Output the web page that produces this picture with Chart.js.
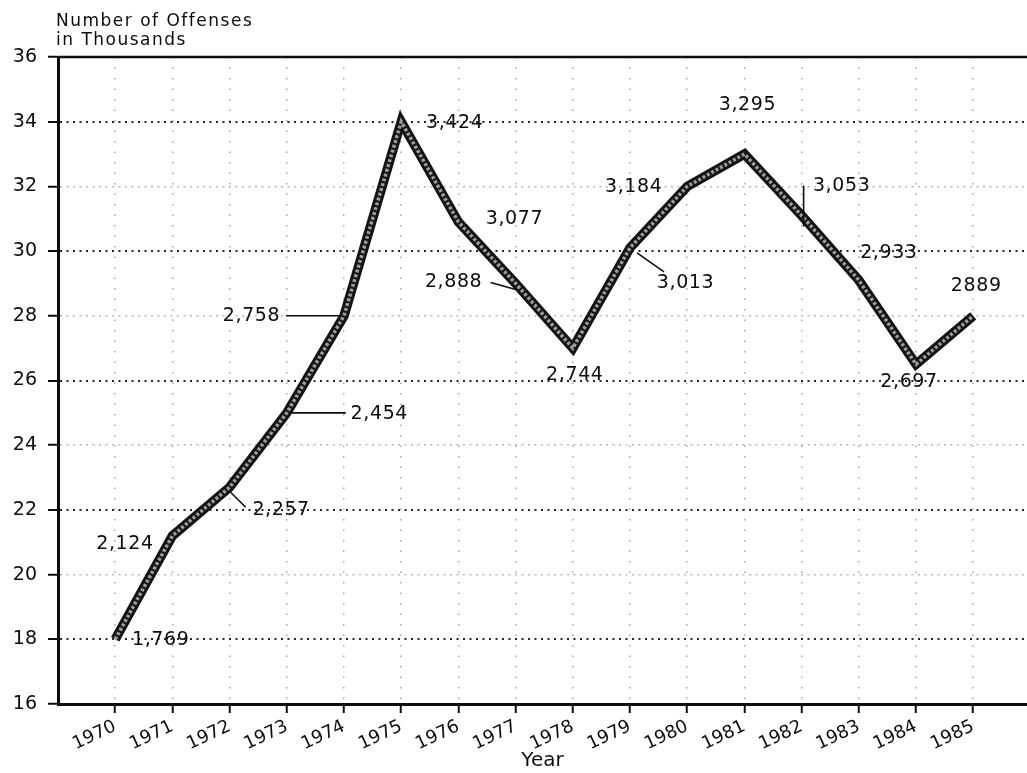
<!DOCTYPE html>
<html>
<head>
<meta charset="utf-8">
<script src="https://cdn.jsdelivr.net/npm/chart.js@4/dist/chart.umd.min.js"></script>
<style>
  html, body { margin: 0; padding: 0; background: #ffffff; }
  canvas { display: block; }
</style>
</head>
<body>
<canvas id="c" width="1027" height="773"></canvas>
<script>
// ---- data ----
const years = [1970, 1971, 1972, 1973, 1974, 1975, 1976, 1977, 1978, 1979, 1980, 1981, 1982, 1983, 1984, 1985];
const offenses = [18.0, 21.2, 22.7, 25.0, 28.0, 34.0, 30.9, 29.0, 27.0, 30.1, 32.0, 33.0, 31.1, 29.1, 26.5, 28.0];
const pointLabels = ['1,769', '2,124', '2,257', '2,454', '2,758', '3,424', '3,077', '2,888', '2,744', '3,013', '3,184', '3,295', '3,053', '2,933', '2,697', '2889'];
const yTicks = [16, 18, 20, 22, 24, 26, 28, 30, 32, 34, 36];
const yTitleLines = ['Number of Offenses', 'in Thousands'];
const xTitle = 'Year';

// ---- layout of the value labels (pixel offsets from each point) ----
const labelOffsets = [
  [45.5, 1], [-47.5, 8], [51.5, 23], [92.5, 1], [-92.5, 0], [53.5, 1], [56, -3], [-62, -1],
  [2, 27], [55.5, 35], [-53.5, 1], [3, -49], [40, -29], [30, -27], [-7, 18], [3, -30]
];
const leaderLines = {
  2: [1, 5, 16, 20],
  3: [5, 0, 59, 0],
  4: [-58, 0, -2, 0],
  7: [-25, -1, 0, 6],
  9: [7, 5, 34, 24],
  12: [2, -30, 2, 11]
};

const FONT = '"DejaVu Sans", "Liberation Sans", sans-serif';
const INK = '#0d0d0d';

const points = years.map((yr, i) => ({ x: yr, y: offenses[i] }));

const annotatePlugin = {
  id: 'annotate',
  beforeDatasetsDraw(chart) {
    const { ctx, chartArea } = chart;
    ctx.save();
    ctx.strokeStyle = INK;
    ctx.lineWidth = 2.5;
    ctx.beginPath();
    ctx.moveTo(chartArea.left, chartArea.top);
    ctx.lineTo(chartArea.right, chartArea.top);
    ctx.stroke();
    ctx.restore();
  },
  afterDatasetsDraw(chart) {
    const { ctx } = chart;
    const meta = chart.getDatasetMeta(0);
    ctx.save();
    ctx.fillStyle = INK;
    ctx.strokeStyle = INK;
    ctx.font = '19px ' + FONT;
    ctx.textAlign = 'center';
    ctx.textBaseline = 'middle';
    try { ctx.letterSpacing = '0.6px'; } catch (e) {}
    meta.data.forEach((pt, i) => {
      const [dx, dy] = labelOffsets[i];
      ctx.fillText(pointLabels[i], pt.x + dx, pt.y + dy);
      const l = leaderLines[i];
      if (l) {
        ctx.lineWidth = 1.6;
        ctx.beginPath();
        ctx.moveTo(pt.x + l[0], pt.y + l[1]);
        ctx.lineTo(pt.x + l[2], pt.y + l[3]);
        ctx.stroke();
      }
    });
    ctx.restore();
  },
  afterDraw(chart) {
    const { ctx } = chart;
    ctx.save();
    ctx.fillStyle = INK;
    ctx.font = '17px ' + FONT;
    ctx.textAlign = 'left';
    ctx.textBaseline = 'alphabetic';
    try { ctx.letterSpacing = '1.5px'; } catch (e) {}
    ctx.fillText(yTitleLines[0], 56, 26);
    ctx.fillText(yTitleLines[1], 56, 45);
    ctx.restore();
  }
};

new Chart(document.getElementById('c'), {
  type: 'line',
  data: {
    datasets: [
      {
        data: points,
        borderColor: '#9c9c9c',
        borderWidth: 3.5,
        borderDash: [3, 2],
        pointRadius: 0,
        tension: 0,
        borderJoinStyle: 'miter',
        borderCapStyle: 'butt',
        order: 0
      },
      {
        data: points,
        borderColor: '#141414',
        borderWidth: 9.5,
        pointRadius: 0,
        tension: 0,
        borderJoinStyle: 'miter',
        borderCapStyle: 'butt',
        order: 1
      }
    ]
  },
  options: {
    responsive: false,
    animation: false,
    events: [],
    layout: { padding: { top: 57, left: 0, right: 0, bottom: 0 } },
    plugins: { legend: { display: false }, tooltip: { enabled: false } },
    scales: {
      x: {
        type: 'linear',
        min: 1969,
        max: 1985.94,
        afterBuildTicks: s => { s.ticks = years.map(v => ({ value: v })); },
        afterFit: s => { s.height = 69; },
        ticks: {
          autoSkip: false,
          minRotation: 25,
          maxRotation: 25,
          padding: 3,
          color: INK,
          font: { family: FONT, size: 18 },
          callback: v => String(v)
        },
        grid: {
          color: 'rgba(0,0,0,0.35)',
          lineWidth: 1.5,
          tickLength: 9,
          tickColor: INK,
          tickWidth: 2
        },
        border: { color: INK, width: 3, dash: [1.5, 9] },
        title: {
          display: true,
          text: xTitle,
          color: INK,
          font: { family: FONT, size: 20 },
          padding: { top: 0, bottom: 0 }
        }
      },
      y: {
        type: 'linear',
        min: 16,
        max: 36,
        afterBuildTicks: s => { s.ticks = yTicks.map(v => ({ value: v })); },
        afterFit: s => { s.width = 58; },
        ticks: {
          padding: 11,
          color: INK,
          font: { family: FONT, size: 19 },
          callback: v => String(v)
        },
        grid: {
          color: c => (c.tick && (c.tick.value % 4 === 2)) ? 'rgba(0,0,0,0.85)' : 'rgba(0,0,0,0.28)',
          lineWidth: c => (c.tick && (c.tick.value % 4 === 2)) ? 2 : 1.5,
          tickLength: 10,
          tickColor: INK,
          tickWidth: 2
        },
        border: { color: INK, width: 3, dash: [2, 4.5] }
      }
    }
  },
  plugins: [annotatePlugin]
});
</script>
</body>
</html>
